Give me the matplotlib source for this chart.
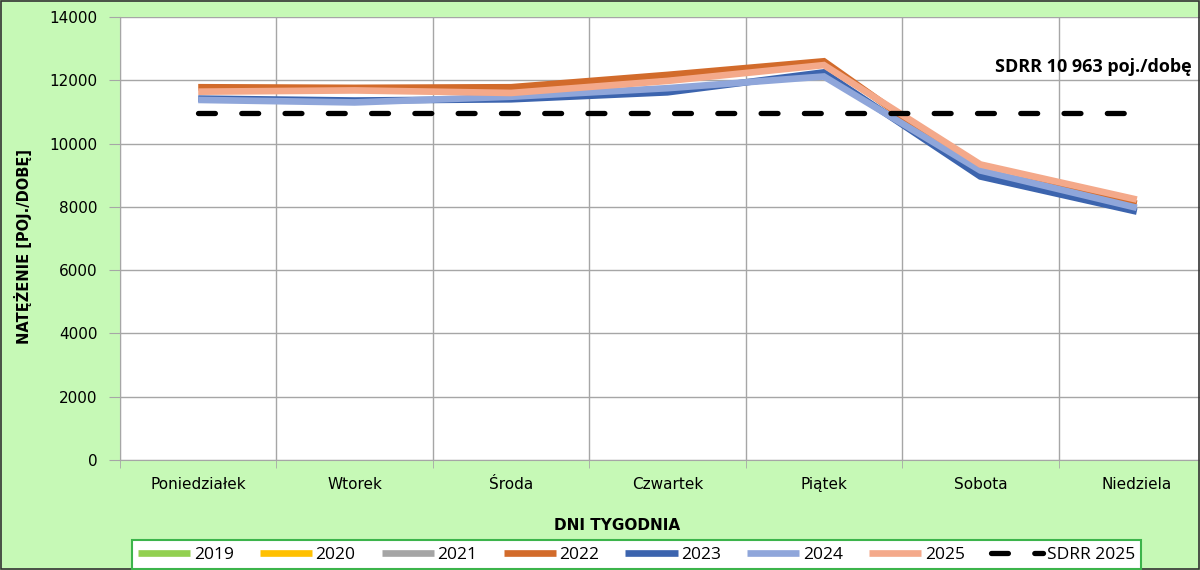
import numpy as np
import matplotlib
matplotlib.use("Agg")
import matplotlib.pyplot as plt

# dni tygodnia
days = ["Poniedziałek", "Wtorek", "Środa", "Czwartek", "Piątek", "Sobota", "Niedziela"]

# natezenie ruchu [poj./dobe]
v2019 = [None] * 7
v2020 = [None] * 7
v2021 = [None] * 7
v2022 = [11780, 11760, 11780, 12170, 12600, 9100, 8100]
v2023 = [11420, 11360, 11400, 11620, 12250, 8960, 7850]
v2024 = [11380, 11300, 11480, 11750, 12120, 9150, 7970]
v2025 = [11640, 11680, 11600, 11980, 12480, 9340, 8230]
sdrr_2025 = 10963

years = ["2019", "2020", "2021", "2022", "2023", "2024", "2025"]
series = [v2019, v2020, v2021, v2022, v2023, v2024, v2025]
colors = ["#92D050", "#FFC000", "#A5A5A5", "#D26B2B", "#3C64AE", "#8FA6DA", "#F4A98A"]

bg = "#C6F9B6"
grid_c = "#A6A6A6"

fig = plt.figure(figsize=(12, 5.7), dpi=100, facecolor=bg)
ax = fig.add_axes([120 / 1200, 1 - 460 / 570, 1095 / 1200, 443 / 570])
ax.set_facecolor("white")

x = np.arange(len(days))
for name, vals, c in zip(years, series, colors):
    y = np.array([np.nan if v is None else v for v in vals], dtype=float)
    ax.plot(x, y, color=c, lw=4.8, solid_joinstyle="miter", solid_capstyle="butt", label=name)

ax.plot(x, [sdrr_2025] * len(x), color="black", lw=3.8, ls=(0, (3.2, 5.0)),
        dash_capstyle="round", label="SDRR 2025")

ax.text(6.35, 12420, "SDRR 10 963 poj./dobę", ha="right", va="center",
        fontsize=13, fontweight="bold", family=["Open Sans", "DejaVu Sans"])

ax.set_xlim(-0.5, 6.5)
ax.set_ylim(0, 14000)
ax.set_yticks(np.arange(0, 14001, 2000))
ax.tick_params(axis="y", length=8, color=grid_c, labelsize=11, pad=8)

ax.set_xticks(x)
ax.set_xticklabels(days)
ax.set_xticks(np.arange(-0.5, 6.6, 1), minor=True)
ax.tick_params(axis="x", which="major", length=0, labelsize=11, pad=12)
ax.tick_params(axis="x", which="minor", length=6, color=grid_c)

ax.grid(True, axis="y", color=grid_c, lw=1)
ax.grid(True, axis="x", which="minor", color=grid_c, lw=1)
ax.set_axisbelow(True)
for s in ["top", "right"]:
    ax.spines[s].set_visible(False)
for s in ["left", "bottom"]:
    ax.spines[s].set_color(grid_c)

fig.text(23 / 1200, 1 - 247 / 570, "NATĘŻENIE [POJ./DOBĘ]", rotation=90,
         ha="center", va="center", fontsize=10.5, fontweight="bold")
fig.text(617 / 1200, 1 - 525 / 570, "DNI TYGODNIA", ha="center", va="center",
         fontsize=11, fontweight="bold")

leg = fig.legend(loc="upper left", bbox_to_anchor=(132 / 1200, 1 - 541 / 570, 1009 / 1200, 0.001),
                 mode="expand", ncol=8, handlelength=3.0, handletextpad=0.2,
                 frameon=True, fancybox=False, borderpad=0.35, borderaxespad=0,
                 prop={"family": ["Open Sans", "DejaVu Sans"], "size": 12.5})
leg.get_frame().set_edgecolor("#3CB44B")
leg.get_frame().set_linewidth(1.5)
leg.get_frame().set_facecolor("white")
leg.get_frame().set_alpha(1)

# ramka wokol calego wykresu
fig.patches.append(plt.Rectangle((0.0005, 0.001), 0.999, 0.998, transform=fig.transFigure,
                                 fill=False, edgecolor="#333333", lw=1.2))

fig.savefig("out.png", dpi=100, facecolor=bg)
